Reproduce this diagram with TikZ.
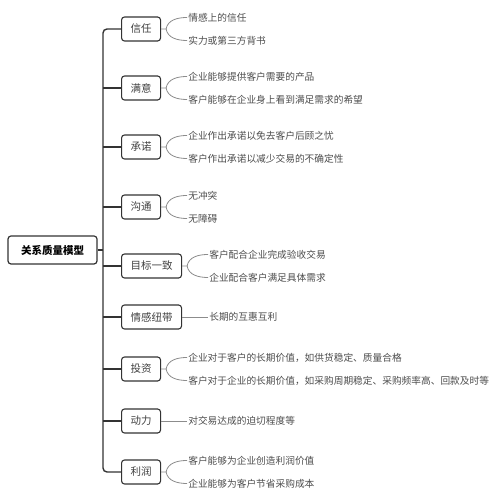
\documentclass[tikz,border=0pt]{standalone}
\usepackage{fontspec}
\setmainfont{Noto Sans CJK SC}
\usetikzlibrary{positioning}
\tikzset{root node/.style={rectangle,rounded corners=3pt,draw=black!80,line width=1.2pt,minimum width=89pt,minimum height=28pt,font=\bfseries\fontsize{10.5}{12}\selectfont} }
\tikzset{cat node/.style={rectangle,rounded corners=3pt,draw=black!80,line width=1.1pt,minimum height=24pt,inner xsep=9pt,text=black!75,anchor=west,font=\fontsize{10.5}{12}\selectfont} }
\tikzset{leaf node/.style={inner sep=1pt,text=black!70,font=\fontsize{9.7}{12}\selectfont} }
\tikzset{trunk/.style={draw=black!80,line width=1.4pt}, twig/.style={draw=black!45,line width=0.8pt} }

\begin{document}
\begin{tikzpicture}[x=1pt,y=1pt]
\useasboundingbox (0,0) rectangle (503,500);

  \node[root node] (0) at (52.5,250) {关系质量模型};
  \coordinate (t) at (103,250);

  \node[cat node] (1) at (121,471) {信任};
  \node[cat node] (2) at (121,412) {满意};
  \node[cat node] (3) at (121,353) {承诺};
  \node[cat node] (4) at (121,293) {沟通};
  \node[cat node] (5) at (121,234) {目标一致};
  \node[cat node] (6) at (121,183) {情感纽带};
  \node[cat node] (7) at (121,131) {投资};
  \node[cat node] (8) at (121,79) {动力};
  \node[cat node] (9) at (121,28) {利润};

  \node[leaf node] (1a) [right=26pt of 1, yshift=11.5pt] {情感上的信任};
  \node[leaf node] (1b) [right=26pt of 1, yshift=-11.5pt] {实力或第三方背书};
  \node[leaf node] (2a) [right=26pt of 2, yshift=11.5pt] {企业能够提供客户需要的产品};
  \node[leaf node] (2b) [right=26pt of 2, yshift=-11.5pt] {客户能够在企业身上看到满足需求的希望};
  \node[leaf node] (3a) [right=26pt of 3, yshift=11.5pt] {企业作出承诺以免去客户后顾之忧};
  \node[leaf node] (3b) [right=26pt of 3, yshift=-11.5pt] {客户作出承诺以减少交易的不确定性};
  \node[leaf node] (4a) [right=26pt of 4, yshift=11.5pt] {无冲突};
  \node[leaf node] (4b) [right=26pt of 4, yshift=-11.5pt] {无障碍};
  \node[leaf node] (5a) [right=26pt of 5, yshift=11.5pt] {客户配合企业完成验收交易};
  \node[leaf node] (5b) [right=26pt of 5, yshift=-11.5pt] {企业配合客户满足具体需求};
  \node[leaf node] (6a) [right=26pt of 6] {长期的互惠互利};
  \node[leaf node] (7a) [right=26pt of 7, yshift=11.5pt] {企业对于客户的长期价值，如供货稳定、质量合格};
  \node[leaf node] (7b) [right=26pt of 7, yshift=-11.5pt] {客户对于企业的长期价值，如采购周期稳定、采购频率高、回款及时等};
  \node[leaf node] (8a) [right=26pt of 8] {对交易达成的迫切程度等};
  \node[leaf node] (9a) [right=26pt of 9, yshift=11.5pt] {客户能够为企业创造利润价值};
  \node[leaf node] (9b) [right=26pt of 9, yshift=-11.5pt] {企业能够为客户节省采购成本};

  % trunk
  \draw[trunk] (0) -- (t);
  \draw[trunk, rounded corners=4pt] (1.west) -| (t) |- (9.west);
  \draw[trunk] (t |- 2.west) -- (2.west);
  \draw[trunk] (t |- 3.west) -- (3.west);
  \draw[trunk] (t |- 4.west) -- (4.west);
  \draw[trunk] (t |- 5.west) -- (5.west);
  \draw[trunk] (t |- 6.west) -- (6.west);
  \draw[trunk] (t |- 7.west) -- (7.west);
  \draw[trunk] (t |- 8.west) -- (8.west);

  % twigs
  \draw[twig] (1.east) -- ++(5,0) coordinate (j1) to[out=80,in=180] (1a.west);
  \draw[twig] (j1) to[out=-80,in=180] (1b.west);
  \draw[twig] (2.east) -- ++(5,0) coordinate (j2) to[out=80,in=180] (2a.west);
  \draw[twig] (j2) to[out=-80,in=180] (2b.west);
  \draw[twig] (3.east) -- ++(5,0) coordinate (j3) to[out=80,in=180] (3a.west);
  \draw[twig] (j3) to[out=-80,in=180] (3b.west);
  \draw[twig] (4.east) -- ++(5,0) coordinate (j4) to[out=80,in=180] (4a.west);
  \draw[twig] (j4) to[out=-80,in=180] (4b.west);
  \draw[twig] (5.east) -- ++(5,0) coordinate (j5) to[out=80,in=180] (5a.west);
  \draw[twig] (j5) to[out=-80,in=180] (5b.west);
  \draw[twig] (6.east) -- (6a.west);
  \draw[twig] (7.east) -- ++(5,0) coordinate (j7) to[out=80,in=180] (7a.west);
  \draw[twig] (j7) to[out=-80,in=180] (7b.west);
  \draw[twig] (8.east) -- (8a.west);
  \draw[twig] (9.east) -- ++(5,0) coordinate (j9) to[out=80,in=180] (9a.west);
  \draw[twig] (j9) to[out=-80,in=180] (9b.west);
\end{tikzpicture}
\end{document}
